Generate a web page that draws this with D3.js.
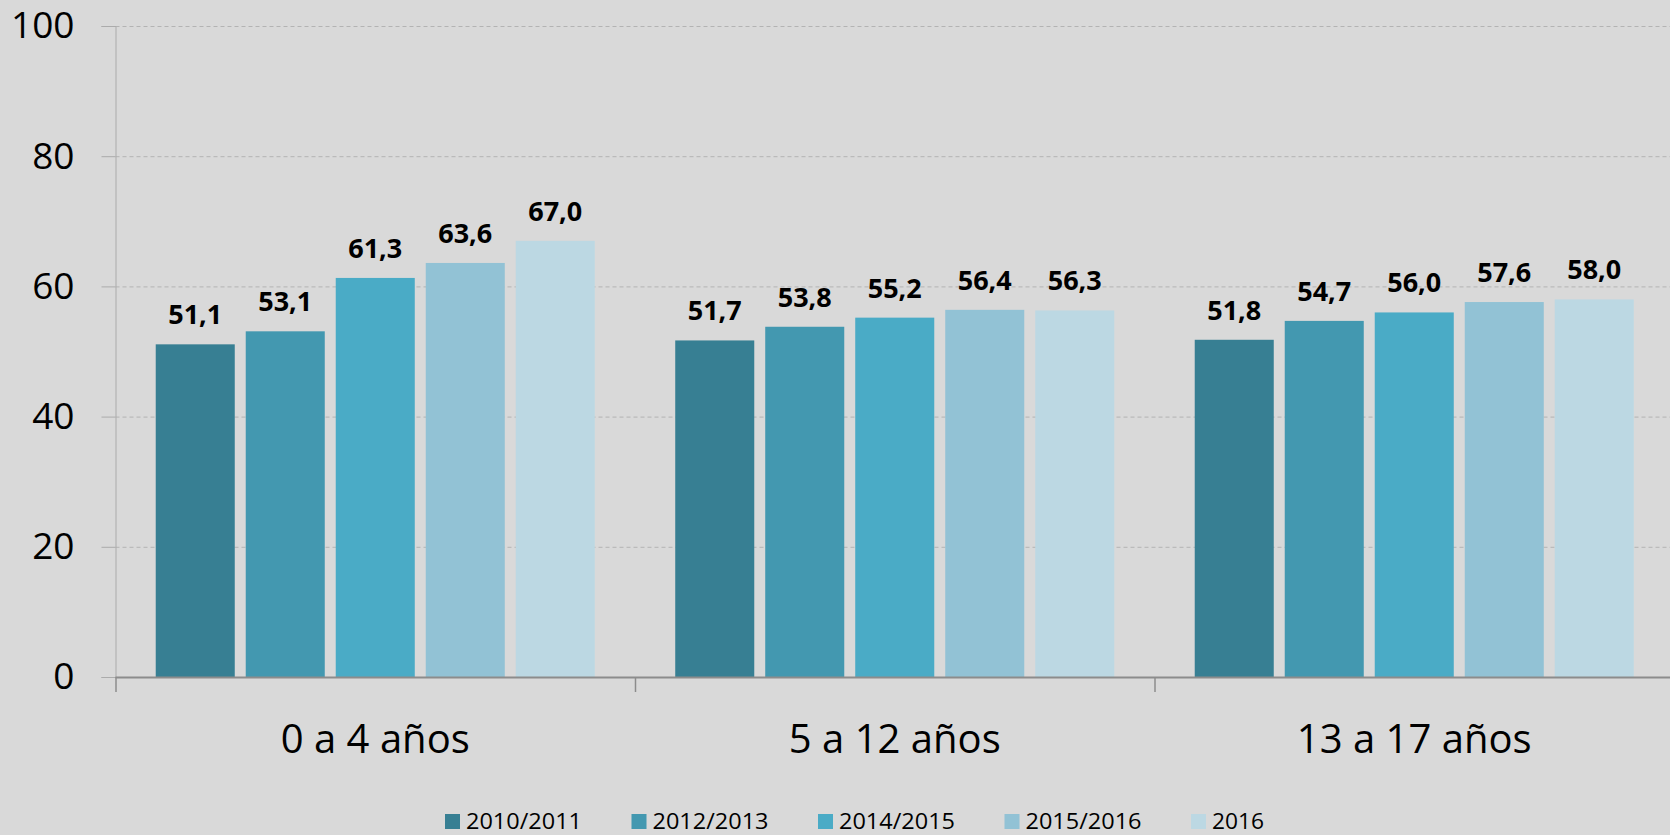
<!DOCTYPE html>
<html><head><meta charset="utf-8">
<script src="https://cdn.jsdelivr.net/npm/d3@7"></script>
<style>
html,body{margin:0;padding:0;background:#d9d9d9;}
svg{display:block;font-family:"Open Sans",sans-serif;}
</style></head>
<body><svg id="c" width="1670" height="835"></svg>
<script>
const categories = ["0 a 4 años", "5 a 12 años", "13 a 17 años"];
const seriesNames = ["2010/2011", "2012/2013", "2014/2015", "2015/2016", "2016"];
const s2010_2011 = [51.1, 51.7, 51.8];
const s2012_2013 = [53.1, 53.8, 54.7];
const s2014_2015 = [61.3, 55.2, 56.0];
const s2015_2016 = [63.6, 56.4, 57.6];
const s2016 = [67.0, 56.3, 58.0];
const seriesValues = [s2010_2011, s2012_2013, s2014_2015, s2015_2016, s2016];
const colors = ["#377f93", "#4398b0", "#4aabc6", "#92c2d5", "#bcd8e3"];
const yTicks = [0, 20, 40, 60, 80, 100];

(function () {
const svg = d3.select("#c");
const pLeft = 115.5, pRight = 1674, pTop = 26, pBottom = 677;

const x0 = d3.scaleBand().domain(categories).range([pLeft, pRight]).padding(0);
const x1 = d3.scaleBand().domain(seriesNames).range([0, x0.bandwidth()])
  .paddingInner(0.122).paddingOuter(0.447);
const y = d3.scaleLinear().domain([0, 100]).range([pBottom, pTop]);

// gridlines
svg.append("g").selectAll("line").data(yTicks.filter(d => d > 0)).join("line")
  .attr("x1", pLeft).attr("x2", 1670)
  .attr("y1", d => y(d) + 0.5).attr("y2", d => y(d) + 0.5)
  .attr("stroke", "#b3b3b3").attr("stroke-width", 1).attr("stroke-dasharray", "4,3");

// y axis
const yAxis = d3.axisLeft(y).tickValues(yTicks).tickSize(14).tickPadding(27);
const gy = svg.append("g").attr("transform", `translate(${pLeft},0)`).call(yAxis);
gy.select(".domain").attr("stroke", "#ababab");
gy.selectAll(".tick line").attr("stroke", "#ababab");
gy.selectAll(".tick text").attr("font-size", 37).attr("fill", "#000")
  .attr("font-family", "'Open Sans',sans-serif");

// bars
const groups = svg.append("g").selectAll("g").data(categories).join("g")
  .attr("transform", d => `translate(${x0(d)},0)`);
const rows = (c, ci) => seriesNames.map((s, si) => ({s, si, v: seriesValues[si][ci]}));
groups.selectAll("rect").data(rows).join("rect")
  .attr("x", d => x1(d.s)).attr("width", x1.bandwidth())
  .attr("y", d => y(d.v)).attr("height", d => y(0) - y(d.v))
  .attr("fill", d => colors[d.si]);
const fmt = v => d3.format(".1f")(v).replace(".", ",");
groups.selectAll("text").data(rows).join("text")
  .attr("x", d => x1(d.s) + x1.bandwidth() / 2)
  .attr("y", d => y(d.v) - 20)
  .attr("text-anchor", "middle").attr("font-size", 27).attr("font-weight", "bold")
  .attr("fill", "#000").text(d => fmt(d.v));

// x axis
svg.append("line").attr("x1", pLeft).attr("x2", 1670).attr("y1", pBottom + 0.5).attr("y2", pBottom + 0.5)
  .attr("stroke", "#8c8c8c").attr("stroke-width", 2);
const bounds = categories.map(c => x0(c));
svg.append("g").selectAll("line").data(bounds).join("line")
  .attr("x1", d => d + 0.5).attr("x2", d => d + 0.5).attr("y1", pBottom).attr("y2", pBottom + 15)
  .attr("stroke", "#8c8c8c").attr("stroke-width", 1.5);
svg.append("g").selectAll("text").data(categories).join("text")
  .attr("x", d => x0(d) + x0.bandwidth() / 2).attr("y", 753)
  .attr("text-anchor", "middle").attr("font-size", 40).attr("fill", "#000").text(d => d);

// legend
const legX = [445, 631.5, 818, 1004.5, 1191];
const lg = svg.append("g").selectAll("g").data(seriesNames).join("g")
  .attr("transform", (d, i) => `translate(${legX[i]},814)`);
lg.append("rect").attr("width", 15).attr("height", 15).attr("fill", (d, i) => colors[i]);
lg.append("text").attr("x", 21).attr("y", 15).attr("font-size", 21).attr("fill", "#000")
  .attr("textLength", d => d.length > 4 ? 116 : 52).attr("lengthAdjust", "spacingAndGlyphs")
  .text(d => d);
})();
</script></body></html>
